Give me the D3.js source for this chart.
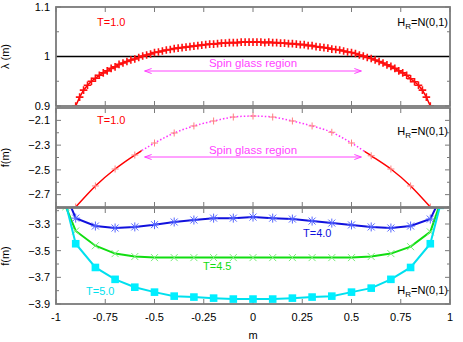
<!DOCTYPE html>
<html><head><meta charset="utf-8">
<script src="https://cdn.jsdelivr.net/npm/d3@7"></script>
<style>body{margin:0;background:#fff}svg{display:block;font-family:"Liberation Sans",Arial,sans-serif}</style>
</head><body>
<script>
// ---- data ----
const lamM = [-0.90,-0.88,-0.86,-0.84,-0.82,-0.80,-0.78,-0.76,-0.74,-0.72,-0.70,-0.68,-0.66,-0.64,-0.62,-0.60,-0.58,-0.56,-0.54,-0.52,-0.50,-0.48,-0.46,-0.44,-0.42,-0.40,-0.38,-0.36,-0.34,-0.32,-0.30,-0.28,-0.26,-0.24,-0.22,-0.20,-0.18,-0.16,-0.14,-0.12,-0.10,-0.08,-0.06,-0.04,-0.02,0.00,
  0.02,0.04,0.06,0.08,0.10,0.12,0.14,0.16,0.18,0.20,0.22,0.24,0.26,0.28,0.30,0.32,0.34,0.36,0.38,0.40,0.42,0.44,0.46,0.48,0.50,0.52,0.54,0.56,0.58,0.60,0.62,0.64,0.66,0.68,0.70,0.72,0.74,0.76,0.78,0.80,0.82,0.84,0.86,0.88,0.90];
const lamT1 = [0.900,0.918,0.932,0.942,0.950,0.956,0.962,0.967,0.971,0.976,0.979,0.984,0.987,0.990,0.993,0.995,0.998,1.001,1.003,1.005,1.008,1.009,1.011,1.013,1.014,1.016,1.017,1.018,1.019,1.020,1.021,1.022,1.023,1.024,1.025,1.025,1.026,1.027,1.027,1.028,1.028,1.028,1.029,1.029,1.029,1.029,
  1.029,1.029,1.028,1.029,1.028,1.028,1.027,1.027,1.026,1.026,1.025,1.024,1.024,1.022,1.022,1.020,1.019,1.018,1.017,1.015,1.014,1.013,1.011,1.009,1.008,1.006,1.003,1.001,0.998,0.996,0.993,0.990,0.987,0.983,0.980,0.976,0.971,0.967,0.962,0.955,0.949,0.942,0.932,0.918,0.900];

const fM1 = [-0.9,-0.8,-0.7,-0.6,-0.5,-0.4,-0.3,-0.2,-0.1,0,0.1,0.2,0.3,0.4,0.5,0.6,0.7,0.8,0.9];
const fT1 = [-2.800,-2.630,-2.493,-2.380,-2.283,-2.202,-2.145,-2.105,-2.073,-2.065,-2.073,-2.105,-2.145,-2.196,-2.283,-2.386,-2.493,-2.630,-2.800];

const mHigh = [-0.95,-0.9,-0.8,-0.7,-0.6,-0.5,-0.4,-0.3,-0.2,-0.1,0,0.1,0.2,0.3,0.4,0.5,0.6,0.7,0.8,0.9,0.95];
const fT40 = [-3.08,-3.256,-3.315,-3.330,-3.322,-3.305,-3.285,-3.270,-3.256,-3.256,-3.248,-3.256,-3.263,-3.278,-3.293,-3.307,-3.322,-3.330,-3.315,-3.263,-3.11];
const fT45 = [-3.17,-3.352,-3.463,-3.522,-3.544,-3.552,-3.552,-3.552,-3.552,-3.552,-3.552,-3.552,-3.552,-3.552,-3.552,-3.552,-3.544,-3.522,-3.470,-3.359,-3.145];
const fT50 = [-3.15,-3.448,-3.626,-3.715,-3.774,-3.811,-3.841,-3.848,-3.856,-3.863,-3.863,-3.863,-3.856,-3.848,-3.841,-3.811,-3.781,-3.715,-3.626,-3.448,-3.16];

const xTicks = [-1,-0.75,-0.5,-0.25,0,0.25,0.5,0.75,1];
const xTickLabels = ["-1","-0.75","-0.5","-0.25","0","0.25","0.5","0.75","1"];
const y1Ticks = [0.9,1,1.1], y1Minor = [0.95,1.05];
const y2Ticks = [-2.7,-2.5,-2.3,-2.1], y2Minor = [-2.8,-2.6,-2.4,-2.2];
const y3Ticks = [-3.9,-3.7,-3.5,-3.3], y3Minor = [-3.8,-3.6,-3.4,-3.2];

// ---- layout ----
const W = 463, H = 342;
const svg = d3.select("body").append("svg").attr("width", W).attr("height", H);
const x = d3.scaleLinear().domain([-1, 1]).range([56, 450]);
const panels = [
  {y: d3.scaleLinear().domain([0.9, 1.1]).range([106, 7]), ticks: y1Ticks, minor: y1Minor, fmt: d => d === 1 ? "1" : d3.format(".1f")(d), label: "λ (m)"},
  {y: d3.scaleLinear().domain([-2.8, -2.0]).range([207, 108]), ticks: y2Ticks, minor: y2Minor, fmt: d3.format(".1f"), label: "f(m)"},
  {y: d3.scaleLinear().domain([-3.9, -3.18]).range([304, 208]), ticks: y3Ticks, minor: y3Minor, fmt: d3.format(".1f"), label: "f(m)"}
];
const frame = "#7a7a7a";

panels.forEach((p, i) => {
  const [y0, y1] = p.y.range();
  const top = y1, bot = y0;
  svg.append("clipPath").attr("id", "clip" + i).append("rect")
    .attr("x", x(-1)).attr("y", top).attr("width", x(1) - x(-1)).attr("height", bot - top);
  const g = svg.append("g").attr("class", "axes");
  p.ticks.forEach(t => {
    const yy = p.y(t);
    g.append("line").attr("x1", x(-1)).attr("x2", x(-1) + 5).attr("y1", yy).attr("y2", yy).attr("stroke", frame);
    g.append("line").attr("x1", x(1)).attr("x2", x(1) - 5).attr("y1", yy).attr("y2", yy).attr("stroke", frame);
    g.append("text").attr("x", 50).attr("y", yy).attr("dy", "0.35em").attr("text-anchor", "end")
      .attr("font-size", 11).text(p.fmt(t));
  });
  p.minor.forEach(t => {
    const yy = p.y(t);
    g.append("line").attr("x1", x(-1)).attr("x2", x(-1) + 3).attr("y1", yy).attr("y2", yy).attr("stroke", frame);
    g.append("line").attr("x1", x(1)).attr("x2", x(1) - 3).attr("y1", yy).attr("y2", yy).attr("stroke", frame);
  });
  xTicks.forEach(t => {
    g.append("line").attr("x1", x(t)).attr("x2", x(t)).attr("y1", bot).attr("y2", bot - 5).attr("stroke", frame);
    g.append("line").attr("x1", x(t)).attr("x2", x(t)).attr("y1", top).attr("y2", top + 5).attr("stroke", frame);
  });
  g.append("text").attr("transform", `translate(9,${(top + bot) / 2}) rotate(-90)`)
    .attr("text-anchor", "middle").attr("font-size", 11).text(p.label);
  p.g = svg.append("g").attr("clip-path", `url(#clip${i})`);
  p.top = top; p.bot = bot;
});

xTicks.forEach((t, i) => {
  svg.append("text").attr("x", x(t)).attr("y", 321).attr("text-anchor", "middle").attr("font-size", 11).text(xTickLabels[i]);
});
svg.append("text").attr("x", x(0)).attr("y", 339).attr("text-anchor", "middle").attr("font-size", 11).text("m");

function plus(g, cx, cy, s, color, w) {
  g.append("path").attr("d", `M${cx - s},${cy}H${cx + s}M${cx},${cy - s}V${cy + s}`).attr("stroke", color).attr("stroke-width", w).attr("fill", "none");
}
function cross(g, cx, cy, s, color, w) {
  g.append("path").attr("d", `M${cx - s},${cy - s}L${cx + s},${cy + s}M${cx - s},${cy + s}L${cx + s},${cy - s}`).attr("stroke", color).attr("stroke-width", w).attr("fill", "none");
}
function spinArrow(g, yArrow, yText) {
  const xa = x(-0.55), xb = x(0.55), c = "#ff44ff";
  g.append("line").attr("x1", xa).attr("x2", xb).attr("y1", yArrow).attr("y2", yArrow).attr("stroke", c).attr("stroke-width", 1);
  g.append("path").attr("d", `M${xa + 7},${yArrow - 2.5}L${xa},${yArrow}L${xa + 7},${yArrow + 2.5}`).attr("stroke", c).attr("fill", "none");
  g.append("path").attr("d", `M${xb - 7},${yArrow - 2.5}L${xb},${yArrow}L${xb - 7},${yArrow + 2.5}`).attr("stroke", c).attr("fill", "none");
  g.append("text").attr("x", x(0)).attr("y", yText).attr("text-anchor", "middle").attr("font-size", 11.5).attr("fill", c).text("Spin glass region");
}
function hrLabel(y) {
  const t = svg.append("text").attr("x", 448).attr("y", y).attr("text-anchor", "end").attr("font-size", 11);
  t.append("tspan").text("H");
  t.append("tspan").attr("font-size", 8).attr("dy", 3).text("R");
  t.append("tspan").attr("dy", -3).text("=N(0,1)");
}

// ---- panel 1 ----
{
  const p = panels[0], g = p.g;
  g.append("line").attr("x1", x(-1)).attr("x2", x(1)).attr("y1", p.y(1)).attr("y2", p.y(1)).attr("stroke", "#000").attr("stroke-width", 1.5);
  const pts = lamM.map((m, i) => [m, lamT1[i]]);
  g.append("path").attr("d", d3.line().x(d => x(d[0])).y(d => p.y(d[1]))(pts)).attr("stroke", "#ff0000").attr("stroke-width", 1.5).attr("fill", "none");
  pts.forEach(d => plus(g, x(d[0]), p.y(d[1]), 3.8, "#ff1010", 1.6));
  spinArrow(svg, 71, 67);
  svg.append("text").attr("x", 97).attr("y", 26).attr("font-size", 11).attr("fill", "#ff0000").text("T=1.0");
  hrLabel(26);
}
// ---- panel 2 ----
{
  const p = panels[1], g = p.g;
  const pts = fM1.map((m, i) => [m, fT1[i]]);
  const ln = d3.line().x(d => x(d[0])).y(d => p.y(d[1])).curve(d3.curveCardinal.tension(0.2));
  svg.append("clipPath").attr("id", "mid").append("rect").attr("x", x(-0.565)).attr("y", p.top).attr("width", x(0.565) - x(-0.565)).attr("height", p.bot - p.top);
  const side = svg.append("clipPath").attr("id", "side");
  side.append("rect").attr("x", x(-1)).attr("y", p.top).attr("width", x(-0.565) - x(-1)).attr("height", p.bot - p.top);
  side.append("rect").attr("x", x(0.565)).attr("y", p.top).attr("width", x(1) - x(0.565)).attr("height", p.bot - p.top);
  g.append("path").attr("clip-path", "url(#mid)").attr("d", ln(pts)).attr("stroke", "#ff33ff").attr("stroke-width", 1.5).attr("stroke-dasharray", "1.5,2").attr("fill", "none");
  g.append("path").attr("clip-path", "url(#side)").attr("d", ln(pts)).attr("stroke", "#ff0000").attr("stroke-width", 1.5).attr("fill", "none");
  pts.forEach(d => plus(g, x(d[0]), p.y(d[1]), 3.5, "#ff8080", 1));
  spinArrow(svg, 157, 154);
  svg.append("text").attr("x", 97).attr("y", 124).attr("font-size", 11).attr("fill", "#ff0000").text("T=1.0");
  hrLabel(135);
}
// ---- panel 3 ----
{
  const p = panels[2], g = p.g;
  const ln = d3.line().x(d => x(d[0])).y(d => p.y(d[1]));
  const series = [
    {v: fT45, line: "#11dd11", mark: "#77ee77", type: "x"},
    {v: fT50, line: "#00e0ee", mark: "#00eeff", type: "sq"},
    {v: fT40, line: "#1111dd", mark: "#5566ff", type: "star"}
  ];
  series.forEach(s => {
    const pts = mHigh.map((m, i) => [m, s.v[i]]);
    g.append("path").attr("d", ln(pts)).attr("stroke", s.line).attr("stroke-width", 2).attr("fill", "none");
    pts.forEach(d => {
      const cx = x(d[0]), cy = p.y(d[1]);
      if (s.type === "x") cross(g, cx, cy, 3.5, s.mark, 1);
      else if (s.type === "star") { plus(g, cx, cy, 4.5, s.mark, 1); cross(g, cx, cy, 3.5, s.mark, 1); }
      else g.append("rect").attr("x", cx - 3.8).attr("y", cy - 3.8).attr("width", 7.6).attr("height", 7.6).attr("fill", s.mark);
    });
  });
  svg.append("text").attr("x", 303).attr("y", 237).attr("font-size", 11).attr("fill", "#1111dd").text("T=4.0");
  svg.append("text").attr("x", 203).attr("y", 270).attr("font-size", 11).attr("fill", "#11dd11").text("T=4.5");
  svg.append("text").attr("x", 86).attr("y", 295).attr("font-size", 11).attr("fill", "#00e0ee").text("T=5.0");
  hrLabel(294);
}
panels.forEach(p => {
  svg.append("rect").attr("x", x(-1)).attr("y", p.top).attr("width", x(1) - x(-1)).attr("height", p.bot - p.top)
    .attr("fill", "none").attr("stroke", frame).attr("stroke-width", 1.8);
});
</script>
</body></html>
